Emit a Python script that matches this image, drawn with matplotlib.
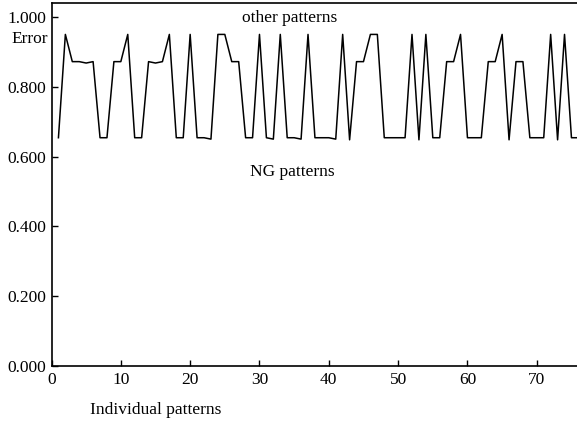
import numpy as np
import matplotlib
matplotlib.use("Agg")
import matplotlib.pyplot as plt

plt.rcParams["font.family"] = ["Liberation Serif", "DejaVu Serif"]

# error of each individual pattern
errors = [
    0.654, 0.950, 0.872, 0.872, 0.868, 0.872, 0.654, 0.654, 0.872, 0.872,
    0.950, 0.654, 0.654, 0.872, 0.868, 0.872, 0.950, 0.654, 0.654, 0.950,
    0.654, 0.654, 0.650, 0.950, 0.950, 0.872, 0.872, 0.654, 0.654, 0.950,
    0.654, 0.650, 0.950, 0.654, 0.654, 0.650, 0.950, 0.654, 0.654, 0.654,
    0.650, 0.950, 0.648, 0.872, 0.872, 0.950, 0.950, 0.654, 0.654, 0.654,
    0.654, 0.950, 0.648, 0.950, 0.654, 0.654, 0.872, 0.872, 0.950, 0.654,
    0.654, 0.654, 0.872, 0.872, 0.950, 0.648, 0.872, 0.872, 0.654, 0.654,
    0.654, 0.950, 0.648, 0.950, 0.654, 0.654,
]
patterns = np.arange(1, len(errors) + 1)

x_tick_values = [0, 10, 20, 30, 40, 50, 60, 70]
y_tick_values = [0.0, 0.2, 0.4, 0.6, 0.8, 1.0]

W, H = 577, 421
fig = plt.figure(figsize=(W / 100, H / 100), dpi=100)
ax = fig.add_axes([51.5 / W, 1 - 366 / H, 1 - 51.5 / W, (366 - 3) / H])

ax.plot(patterns, errors, color="black", lw=1.1)

ax.set_xlim(0, 75.8)
ax.set_ylim(0, 1.04)
ax.set_xticks(x_tick_values)
ax.set_yticks(y_tick_values)
ax.set_yticklabels(["%.3f" % v for v in y_tick_values])
ax.tick_params(direction="in", length=4, width=1, labelsize=12.5, pad=4)
ax.spines["right"].set_visible(False)
for s in ["left", "bottom", "top"]:
    ax.spines[s].set_linewidth(1.2)

fs = 12.5
fig.text(289.5 / W, 1 - 18 / H, "other patterns", ha="center", va="center", fontsize=fs)
fig.text(292.5 / W, 1 - 172 / H, "NG patterns", ha="center", va="center", fontsize=fs)
fig.text(29.5 / W, 1 - 39 / H, "Error", ha="center", va="center", fontsize=fs)
fig.text(155.6 / W, 1 - 410 / H, "Individual patterns", ha="center", va="center", fontsize=fs)

plt.savefig("out.png", dpi=100)
plt.close()
